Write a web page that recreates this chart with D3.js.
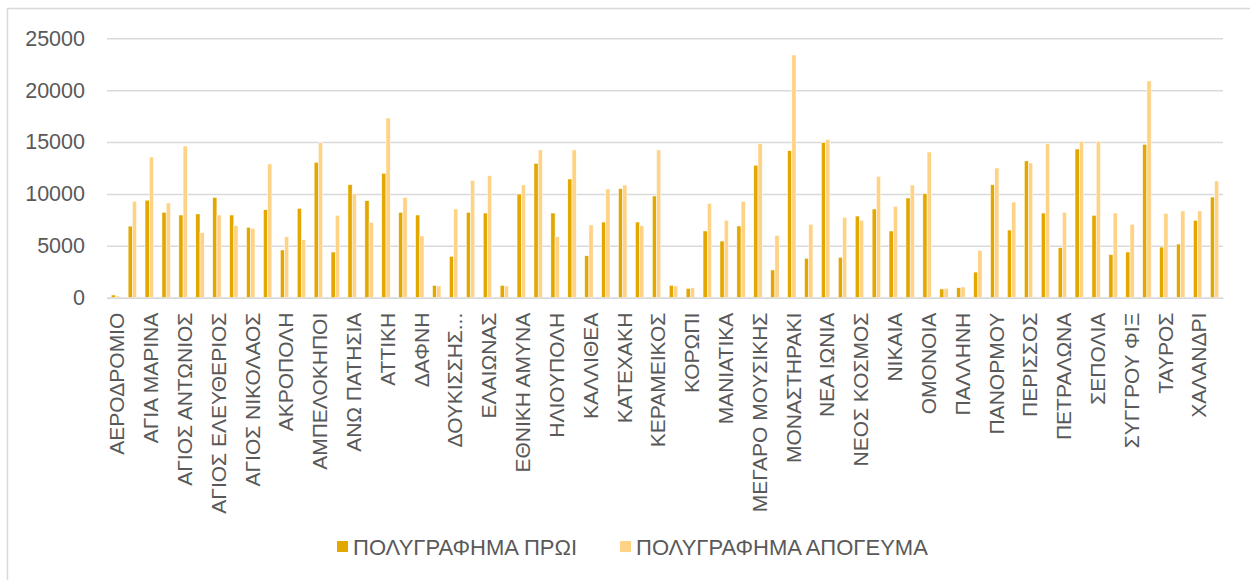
<!DOCTYPE html>
<html>
<head>
<meta charset="utf-8">
<script src="https://cdn.jsdelivr.net/npm/d3@7"></script>
<style>
  body { margin: 0; background: #fff; }
  text { font-family: "Liberation Sans", Arial, sans-serif; fill: #595959; }
</style>
</head>
<body>
<div id="container"></div>
<script>
// Stations (every other one gets a label on the axis)
var stations = [
    'ΑΕΡΟΔΡΟΜΙΟ', 'ΑΓΙΑ ΒΑΡΒΑΡΑ', 'ΑΓΙΑ ΜΑΡΙΝΑ', 'ΑΓΙΑ ΠΑΡΑΣΚΕΥΗ', 'ΑΓΙΟΣ ΑΝΤΩΝΙΟΣ',
    'ΑΓΙΟΣ ΔΗΜΗΤΡΙΟΣ', 'ΑΓΙΟΣ ΕΛΕΥΘΕΡΙΟΣ', 'ΑΓΙΟΣ ΙΩΑΝΝΗΣ', 'ΑΓΙΟΣ ΝΙΚΟΛΑΟΣ', 'ΑΙΓΑΛΕΩ',
    'ΑΚΡΟΠΟΛΗ', 'ΑΛΙΜΟΣ', 'ΑΜΠΕΛΟΚΗΠΟΙ', 'ΑΝΘΟΥΠΟΛΗ', 'ΑΝΩ ΠΑΤΗΣΙΑ',
    'ΑΡΓΥΡΟΥΠΟΛΗ', 'ΑΤΤΙΚΗ', 'ΒΙΚΤΩΡΙΑ', 'ΔΑΦΝΗ', 'ΔΗΜΟΤΙΚΟ ΘΕΑΤΡΟ',
    'ΔΟΥΚΙΣΣΗΣ ΠΛΑΚΕΝΤΙΑΣ', 'ΕΙΡΗΝΗ', 'ΕΛΑΙΩΝΑΣ', 'ΕΛΛΗΝΙΚΟ', 'ΕΘΝΙΚΗ ΑΜΥΝΑ',
    'ΕΥΑΓΓΕΛΙΣΜΟΣ', 'ΗΛΙΟΥΠΟΛΗ', 'ΘΗΣΕΙΟ', 'ΚΑΛΛΙΘΕΑ', 'ΚΑΤ',
    'ΚΑΤΕΧΑΚΗ', 'ΚΑΤΩ ΠΑΤΗΣΙΑ', 'ΚΕΡΑΜΕΙΚΟΣ', 'ΚΗΦΙΣΙΑ', 'ΚΟΡΩΠΙ',
    'ΚΟΡΥΔΑΛΛΟΣ', 'ΜΑΝΙΑΤΙΚΑ', 'ΜΑΡΟΥΣΙ', 'ΜΕΓΑΡΟ ΜΟΥΣΙΚΗΣ', 'ΜΕΤΑΞΟΥΡΓΕΙΟ',
    'ΜΟΝΑΣΤΗΡΑΚΙ', 'ΜΟΣΧΑΤΟ', 'ΝΕΑ ΙΩΝΙΑ', 'ΝΕΟ ΗΡΑΚΛΕΙΟ', 'ΝΕΟΣ ΚΟΣΜΟΣ',
    'ΝΕΡΑΤΖΙΩΤΙΣΣΑ', 'ΝΙΚΑΙΑ', 'ΝΟΜΙΣΜΑΤΟΚΟΠΕΙΟ', 'ΟΜΟΝΟΙΑ', 'ΠΑΙΑΝΙΑ ΚΑΝΤΖΑ',
    'ΠΑΛΛΗΝΗ', 'ΠΑΝΕΠΙΣΤΗΜΙΟ', 'ΠΑΝΟΡΜΟΥ', 'ΠΕΙΡΑΙΑΣ', 'ΠΕΡΙΣΣΟΣ',
    'ΠΕΡΙΣΤΕΡΙ', 'ΠΕΤΡΑΛΩΝΑ', 'ΠΕΥΚΑΚΙΑ', 'ΣΕΠΟΛΙΑ', 'ΣΤΑΘΜΟΣ ΛΑΡΙΣΗΣ',
    'ΣΥΓΓΡΟΥ ΦΙΞ', 'ΣΥΝΤΑΓΜΑ', 'ΤΑΥΡΟΣ', 'ΦΑΛΗΡΟ', 'ΧΑΛΑΝΔΡΙ',
    'ΧΟΛΑΡΓΟΣ'
];

var morning = [
    260, 6900, 9400, 8230, 7970, 8070, 9670, 7970, 6780, 8480,
    4600, 8610, 13050, 4400, 10890, 9350, 11990, 8230, 7970, 1190,
    3990, 8230, 8160, 1190, 9990, 12950, 8160, 11440, 4050, 7290,
    10510, 7290, 9800, 1190, 900, 6430, 5460, 6910, 12760, 2670,
    14170, 3790, 14940, 3890, 7870, 8550, 6430, 9610, 10030, 840,
    960, 2470, 10890, 6520, 13180, 8160, 4820, 14330, 7940, 4150,
    4400, 14780, 4880, 5170, 7460, 9700
];

var afternoon = [
    160, 9290, 13560, 9130, 14620, 6270, 7970, 6940, 6680, 12890,
    5880, 5590, 14940, 7940, 10030, 7260, 17320, 9670, 5950, 1130,
    8550, 11310, 11760, 1130, 10860, 14240, 5880, 14240, 7010, 10480,
    10860, 6940, 14240, 1130, 960, 9090, 7460, 9290, 14880, 6010,
    23390, 7070, 15260, 7740, 7460, 11700, 8810, 10860, 14040, 900,
    1030, 4560, 12500, 9220, 12980, 14880, 8230, 15070, 15070, 8160,
    7070, 20890, 8130, 8360, 8360, 11250
];

var seriesNames = ['ΠΟΛΥΓΡΑΦΗΜΑ ΠΡΩΙ', 'ΠΟΛΥΓΡΑΦΗΜΑ ΑΠΟΓΕΥΜΑ'];
var seriesColors = ['#E3A800', '#FFD285'];
var yTicks = [0, 5000, 10000, 15000, 20000, 25000];

var WIDTH = 1250,
    HEIGHT = 580;

var plot = { left: 107, right: 1223, top: 38.3, bottom: 297.7 };

var svg = d3.select('#container')
    .append('svg')
    .attr('width', WIDTH)
    .attr('height', HEIGHT);

// chart frame
svg.append('rect')
    .attr('x', 7.5)
    .attr('y', 8.5)
    .attr('width', 1260)
    .attr('height', 600)
    .attr('fill', 'none')
    .attr('stroke', '#d9d9d9')
    .attr('stroke-width', 1.5);

var x = d3.scaleBand()
    .domain(stations)
    .range([plot.left, plot.right])
    .paddingInner(0.5)
    .paddingOuter(0.25);

var xSeries = d3.scaleBand()
    .domain([0, 1])
    .range([0, x.bandwidth()]);

var y = d3.scaleLinear()
    .domain([0, 25000])
    .range([plot.bottom, plot.top]);

// gridlines + y labels
var yAxis = svg.append('g')
    .attr('transform', 'translate(' + plot.left + ',0)')
    .call(d3.axisLeft(y)
        .tickValues(yTicks)
        .tickSize(-(plot.right - plot.left))
        .tickPadding(22)
        .tickFormat(d3.format('d')));

yAxis.select('.domain').remove();
yAxis.selectAll('.tick line')
    .attr('stroke', '#d9d9d9')
    .attr('stroke-width', 1.5);
yAxis.selectAll('.tick text')
    .style('font-size', '21.5px')
    .attr('fill', '#595959');

// bars
var rows = stations.map(function(s, i) {
    return { name: s, values: [morning[i], afternoon[i]] };
});

var groups = svg.selectAll('.group')
    .data(rows)
    .enter()
    .append('g')
    .attr('class', 'group')
    .attr('transform', function(d) { return 'translate(' + x(d.name) + ',0)'; });

groups.selectAll('rect')
    .data(function(d) { return d.values; })
    .enter()
    .append('rect')
    .attr('x', function(d, i) { return xSeries(i); })
    .attr('y', function(d) { return y(d); })
    .attr('width', xSeries.bandwidth())
    .attr('height', function(d) { return y(0) - y(d); })
    .attr('fill', function(d, i) { return seriesColors[i]; })
    .attr('stroke', '#fff')
    .attr('stroke-width', 0.5);

// x axis, labels on every other station
var shortName = function(s) {
    return s.length > 18 ? s.split(' ')[0] + '...' : s;
};

var xAxis = svg.append('g')
    .attr('transform', 'translate(0,' + plot.bottom + ')')
    .call(d3.axisBottom(x)
        .tickValues(stations.filter(function(d, i) { return i % 2 === 0; }))
        .tickSize(0)
        .tickFormat(shortName));

xAxis.select('.domain')
    .attr('stroke', '#d9d9d9')
    .attr('stroke-width', 1.5);

xAxis.selectAll('.tick text')
    .style('font-size', '21px')
    .attr('fill', '#595959')
    .attr('text-anchor', 'end')
    .attr('transform', 'translate(1.5,15) rotate(-90)')
    .attr('x', 0)
    .attr('y', 0)
    .attr('dy', '0.35em');

// legend
var legendX = [337, 620];
var legend = svg.selectAll('.legend')
    .data(seriesNames)
    .enter()
    .append('g')
    .attr('class', 'legend')
    .attr('transform', function(d, i) { return 'translate(' + legendX[i] + ',547)'; });

legend.append('rect')
    .attr('x', 0)
    .attr('y', -6)
    .attr('width', 11)
    .attr('height', 11)
    .attr('fill', function(d, i) { return seriesColors[i]; });

legend.append('text')
    .attr('x', 16)
    .attr('dy', '0.35em')
    .style('font-size', '22px')
    .text(function(d) { return d; });
</script>
</body>
</html>
